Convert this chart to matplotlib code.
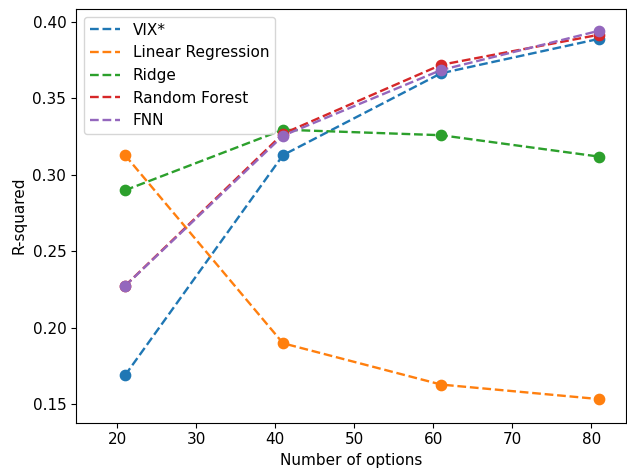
import matplotlib
matplotlib.use("Agg")
import matplotlib.pyplot as plt

n_options = [21, 41, 61, 81]

vix = [0.169, 0.313, 0.3665, 0.389]
linear_reg = [0.313, 0.190, 0.163, 0.1535]
ridge = [0.290, 0.3296, 0.326, 0.312]
random_forest = [0.2275, 0.327, 0.372, 0.3917]
fnn = [0.2274, 0.3257, 0.3686, 0.3943]

labels = ["VIX*", "Linear Regression", "Ridge", "Random Forest", "FNN"]
series = [vix, linear_reg, ridge, random_forest, fnn]

plt.rcParams["font.size"] = 11

fig = plt.figure(figsize=(6.27, 4.70), dpi=100)
ax = fig.add_axes([76 / 627, 47.5 / 470, 550 / 627, 413.5 / 470])

colors = plt.rcParams["axes.prop_cycle"].by_key()["color"]
for i in range(0, len(series)):
    ax.plot(n_options, series[i], "--", color=colors[i], lw=1.7, label=labels[i])
    ax.scatter(n_options, series[i], color=colors[i], s=55, zorder=3)

ax.set_xlim(14.8, 84.4)
ax.set_ylim(0.1382, 0.4085)
ax.set_xticks([20, 30, 40, 50, 60, 70, 80])
ax.set_yticks([0.15, 0.20, 0.25, 0.30, 0.35, 0.40])
ax.set_xlabel("Number of options")
ax.set_ylabel("R-squared")
ax.legend(loc="upper left")

fig.savefig("out.png", dpi=100)
